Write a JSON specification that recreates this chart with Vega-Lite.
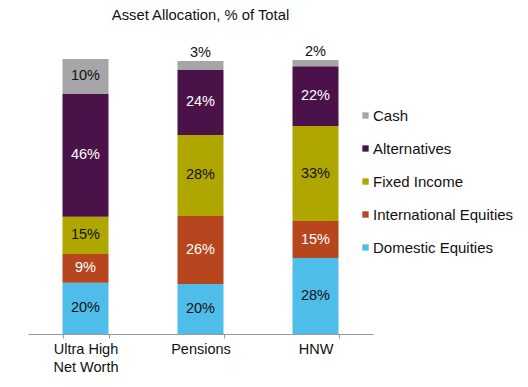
{
  "$schema": "https://vega.github.io/schema/vega-lite/v6.json",
  "width": 345,
  "height": 275,
  "autosize": {"type": "none"},
  "padding": {"left": 28, "top": 59, "right": 155, "bottom": 53},
  "background": "white",
  "config": {"view": {"stroke": null}, "font": "Liberation Sans"},
  "title": {"text": "Asset Allocation, % of Total", "anchor": "middle", "frame": "group", "fontSize": 14.8, "fontWeight": "normal", "font": "Liberation Sans", "color": "#111111", "offset": 21},
  "data": {"values": [
    {"investor": "Ultra High Net Worth", "asset": "Domestic Equities", "value": 18.6, "label": "20%"},
    {"investor": "Ultra High Net Worth", "asset": "International Equities", "value": 10.5, "label": "9%"},
    {"investor": "Ultra High Net Worth", "asset": "Fixed Income", "value": 13.5, "label": "15%"},
    {"investor": "Ultra High Net Worth", "asset": "Alternatives", "value": 44.7, "label": "46%"},
    {"investor": "Ultra High Net Worth", "asset": "Cash", "value": 12.7, "label": "10%"},
    {"investor": "Pensions", "asset": "Domestic Equities", "value": 18.2, "label": "20%"},
    {"investor": "Pensions", "asset": "International Equities", "value": 24.7, "label": "26%"},
    {"investor": "Pensions", "asset": "Fixed Income", "value": 29.5, "label": "28%"},
    {"investor": "Pensions", "asset": "Alternatives", "value": 23.6, "label": "24%"},
    {"investor": "Pensions", "asset": "Cash", "value": 3.3, "label": "3%"},
    {"investor": "HNW", "asset": "Domestic Equities", "value": 27.6, "label": "28%"},
    {"investor": "HNW", "asset": "International Equities", "value": 13.5, "label": "15%"},
    {"investor": "HNW", "asset": "Fixed Income", "value": 34.5, "label": "33%"},
    {"investor": "HNW", "asset": "Alternatives", "value": 21.8, "label": "22%"},
    {"investor": "HNW", "asset": "Cash", "value": 2.2, "label": "2%"}
  ]},
  "transform": [
    {"calculate": "indexof(['Domestic Equities','International Equities','Fixed Income','Alternatives','Cash'], datum.asset)", "as": "ord"},
    {"stack": "value", "groupby": ["investor"], "sort": [{"field": "ord", "order": "ascending"}], "as": ["y0", "y1"]},
    {"calculate": "(datum.y0 + datum.y1) / 2", "as": "mid"}
  ],
  "encoding": {
    "x": {
      "field": "investor", "type": "nominal",
      "sort": ["Ultra High Net Worth", "Pensions", "HNW"],
      "scale": {"paddingInner": 0.6, "paddingOuter": 0.3},
      "axis": {
        "title": null, "labelAngle": 0, "domainColor": "#999999", "tickColor": "#999999",
        "tickBand": "extent", "tickSize": 4, "labelFontSize": 14.5, "labelColor": "#111111",
        "labelPadding": 4, "labelLineHeight": 18, "labelBaseline": "top",
        "labelExpr": "datum.label == 'Ultra High Net Worth' ? ['Ultra High', 'Net Worth'] : datum.label"
      }
    }
  },
  "layer": [
    {
      "mark": {"type": "bar"},
      "encoding": {
        "y": {"field": "y0", "type": "quantitative", "scale": {"domain": [0, 100], "nice": false, "zero": true}, "axis": null},
        "y2": {"field": "y1"},
        "color": {
          "field": "asset", "type": "nominal",
          "scale": {
            "domain": ["Cash", "Alternatives", "Fixed Income", "International Equities", "Domestic Equities"],
            "range": ["#A6A6A8", "#4A1249", "#AFA700", "#B7461F", "#4FBDE9"]
          },
          "legend": {
            "title": null, "orient": "none", "legendX": 330, "legendY": 49,
            "symbolType": "square", "symbolSize": 40, "symbolStrokeWidth": 0,
            "labelFontSize": 15, "labelColor": "#111111", "labelOffset": 0, "rowPadding": 17
          }
        }
      }
    },
    {
      "transform": [{"filter": "datum.value >= 5"}],
      "mark": {"type": "text", "fontSize": 14.5, "baseline": "middle"},
      "encoding": {
        "y": {"field": "mid", "type": "quantitative"},
        "text": {"field": "label"},
        "color": {"condition": {"test": "datum.asset == 'Alternatives' || datum.asset == 'International Equities'", "value": "#ffffff"}, "value": "#111111"}
      }
    },
    {
      "transform": [{"filter": "datum.value < 5"}],
      "mark": {"type": "text", "fontSize": 14.5, "baseline": "bottom", "dy": -1, "color": "#111111"},
      "encoding": {
        "y": {"field": "y1", "type": "quantitative"},
        "text": {"field": "label"}
      }
    }
  ]
}
